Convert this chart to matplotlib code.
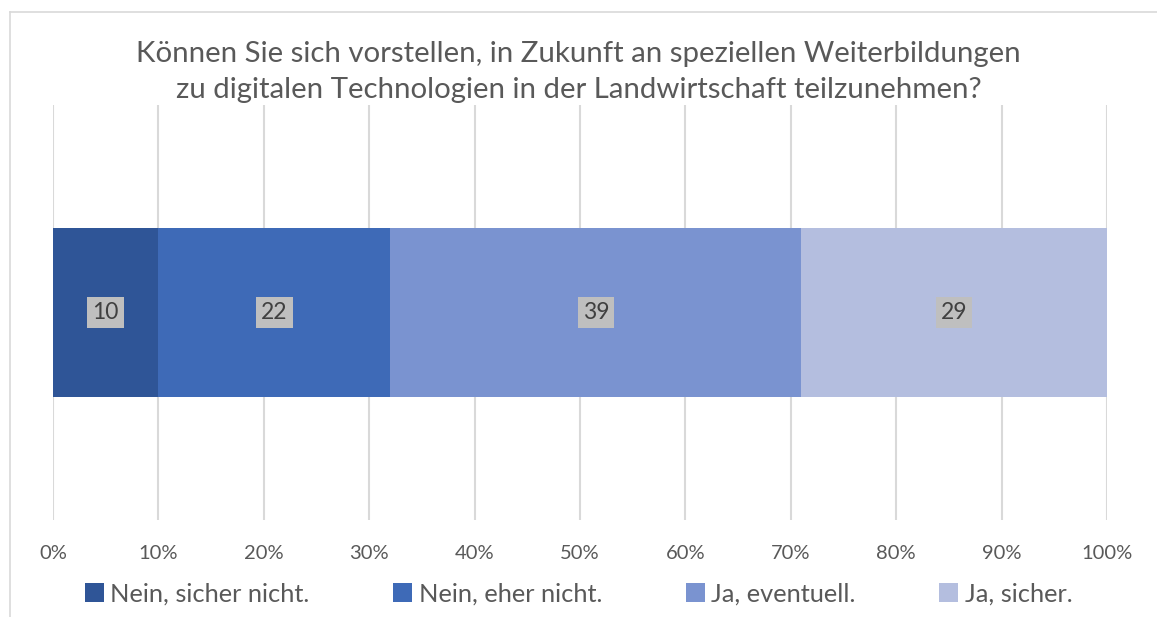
import numpy as np
import matplotlib.pyplot as plt
from matplotlib.patches import Patch
from matplotlib.lines import Line2D

# --- Daten ---
title = ("Können Sie sich vorstellen, in Zukunft an speziellen Weiterbildungen\n"
         "zu digitalen Technologien in der Landwirtschaft teilzunehmen?")
categories = ["Nein, sicher nicht.", "Nein, eher nicht.", "Ja, eventuell.", "Ja, sicher."]
values = [10, 22, 39, 29]
colors = ["#2F5597", "#3E6AB7", "#7A93D0", "#B4BEDF"]
x_ticks = np.arange(0, 101, 10)

plt.rcParams['font.family'] = ['Lato', 'DejaVu Sans']

fig = plt.figure(figsize=(11.57, 6.17), dpi=100)
ax = fig.add_axes([53 / 1157, 1 - 520 / 617, 1054 / 1157, 415 / 617])

left = 0
for val, col, cat in zip(values, colors, categories):
    ax.barh(0, val, left=left, height=0.407, color=col, label=cat, zorder=3)
    ax.text(left + val / 2, 0, str(val), ha="center", va="center",
            fontsize=16.5, color="#404040", zorder=4,
            bbox=dict(boxstyle="square,pad=0.22", fc="#BFBFBF", ec="none"))
    left += val

ax.set_xlim(0, 100)
ax.set_ylim(-0.5, 0.5)
ax.set_xticks(x_ticks)
ax.set_xticklabels([f"{t}%" for t in x_ticks], fontsize=14.5, color="#595959")
ax.set_yticks([])
ax.tick_params(axis="x", length=0, pad=18)
ax.grid(axis="x", color="#D9D9D9", linewidth=1.5, zorder=0)
for s in ax.spines.values():
    s.set_visible(False)

# Titel
fig.text(0.5, 1 - 72 / 617, title, ha="center", va="center",
         fontsize=21.2, color="#595959", linespacing=1.52)

# Legende
handles = [Patch(facecolor=c, edgecolor="none") for c in colors]
fig.legend(handles, categories, loc="center", bbox_to_anchor=(0.5, 1 - 594 / 617),
           ncol=4, frameon=False, fontsize=18.3, labelcolor="#595959",
           handlelength=0.75, handleheight=0.75, handletextpad=0.25, columnspacing=3.3)

# Rahmen (oben und links)
fig.add_artist(Line2D([10 / 1157, 1], [1 - 12 / 617, 1 - 12 / 617],
                      transform=fig.transFigure, color="#D9D9D9", linewidth=1.2))
fig.add_artist(Line2D([10 / 1157, 10 / 1157], [0, 1 - 12 / 617],
                      transform=fig.transFigure, color="#D9D9D9", linewidth=1.2))

plt.savefig("out.png", dpi=100)
plt.close()
